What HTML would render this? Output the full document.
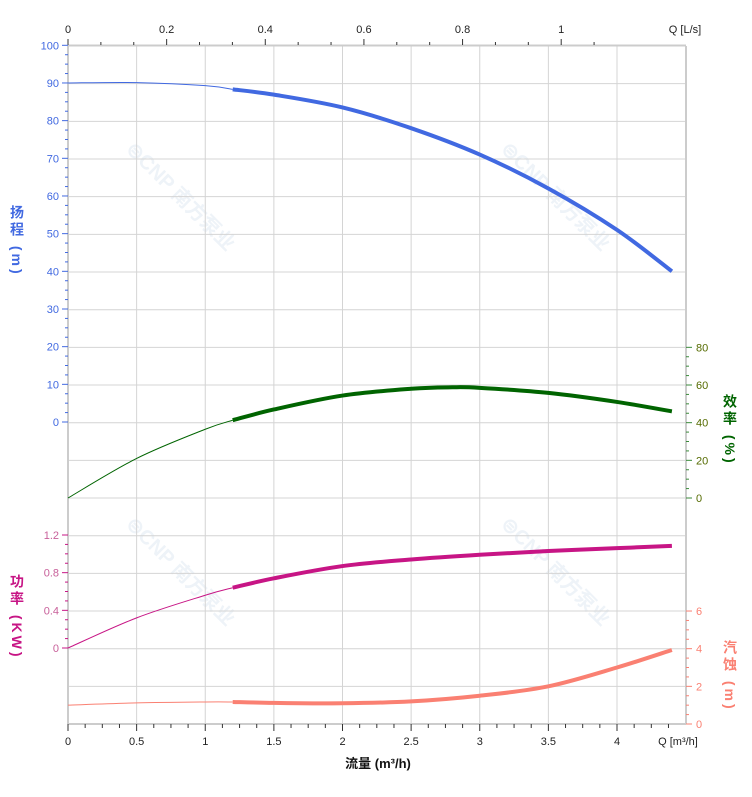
<!DOCTYPE html>
<html><head><meta charset="utf-8"><style>
html,body{margin:0;padding:0;background:#fff;}
svg{display:block;font-family:"Liberation Sans","Noto Sans CJK SC",sans-serif;}
.vl{font-weight:bold;font-size:14px;letter-spacing:3px;}
</style></head><body>
<svg id="s" width="752" height="797" viewBox="0 0 752 797" xmlns="http://www.w3.org/2000/svg"></svg>
<script>
var s=document.getElementById('s');var h='';
var X0=68,PX=137.25,T=46,B=724,R=686,G=37.67;
function X(q){return X0+q*PX;}
function wm(x,y){h+='<text x="'+x+'" y="'+y+'" font-size="20" font-weight="bold" fill="#eef3f8" transform="rotate(45 '+x+' '+y+')">⊜CNP 南方泵业</text>';}
wm(125,150);wm(500,150);wm(125,525);wm(500,525);
for(var i=0;i<=18;i++){var y=T+i*G;h+='<line x1="68" x2="686" y1="'+y+'" y2="'+y+'" stroke="#d4d4d4" stroke-width="1"/>';}
for(var q=0.5;q<=4.01;q+=0.5){var x=X(q);h+='<line x1="'+x+'" x2="'+x+'" y1="46" y2="724" stroke="#d4d4d4"/>';}
h+='<line x1="68" x2="686" y1="45.5" y2="45.5" stroke="#ccc" stroke-width="2"/>';
h+='<line x1="68" x2="686" y1="724" y2="724" stroke="#ccc" stroke-width="2"/>';
h+='<line x1="68" x2="68" y1="46" y2="724" stroke="#ccc" stroke-width="2"/>';
h+='<line x1="686" x2="686" y1="46" y2="724" stroke="#ccc" stroke-width="2"/>';
for(var k=0;k<=35;k++){var x=X(k/8);var L=(k%4==0)?7:4;h+='<line x1="'+x+'" x2="'+x+'" y1="724" y2="'+(724+L)+'" stroke="#333"/>';}
for(var k=0;k<=8;k++){h+='<text x="'+X(k/2)+'" y="745" font-size="11" text-anchor="middle" fill="#222">'+(k/2)+'</text>';}
h+='<text x="678" y="745" font-size="11" text-anchor="middle" fill="#222">Q [m³/h]</text>';
h+='<text x="378" y="768" font-size="13" font-weight="bold" text-anchor="middle" fill="#111">流量 (m³/h)</text>';
var LP=493.2;
for(var k=0;k<=16;k++){var x=68+k*LP/15;if(x>630)break;var L=(k%3==0)?6:3;h+='<line x1="'+x+'" x2="'+x+'" y1="'+(45-L)+'" y2="45" stroke="#333"/>';}
var tl=['0','0.2','0.4','0.6','0.8','1'];
for(var k=0;k<6;k++){h+='<text x="'+(68+k*LP/5)+'" y="33" font-size="11" text-anchor="middle" fill="#222">'+tl[k]+'</text>';}
h+='<text x="685" y="33" font-size="11" text-anchor="middle" fill="#222">Q [L/s]</text>';
var cb='#4169e1';
for(var v=0;v<=100;v+=2.5){var y=422-v*3.767;var L=(v%10==0)?6:3;h+='<line x1="'+(68-L)+'" x2="68" y1="'+y+'" y2="'+y+'" stroke="'+cb+'"/>';if(v%10==0)h+='<text x="59" y="'+(y+4)+'" font-size="11" text-anchor="end" fill="'+cb+'">'+v+'</text>';}
var cp='#c71585';
for(var k=0;k<=12;k++){var y=648-k*9.417;var L=(k%4==0)?6:3;h+='<line x1="'+(68-L)+'" x2="68" y1="'+y+'" y2="'+y+'" stroke="'+cp+'"/>';if(k%4==0)h+='<text x="59" y="'+(y+4)+'" font-size="11" text-anchor="end" fill="#c8609a">'+(k==0?'0':(k/10).toFixed(1))+'</text>';}
var ce='#006400';
for(var v=0;v<=80;v+=5){var y=498-v*1.8833;var L=(v%20==0)?6:3;h+='<line x1="686" x2="'+(686+L)+'" y1="'+y+'" y2="'+y+'" stroke="#3a8a3a"/>';if(v%20==0)h+='<text x="696" y="'+(y+4)+'" font-size="11" fill="#556b00">'+v+'</text>';}
var cn='#fa8072';
for(var v=0;v<=6;v+=0.5){var y=724-v*18.83;var L=(v%2==0)?6:3;h+='<line x1="686" x2="'+(686+L)+'" y1="'+y+'" y2="'+y+'" stroke="'+cn+'"/>';if(v%2==0)h+='<text x="696" y="'+(y+4)+'" font-size="11" fill="'+cn+'">'+v+'</text>';}
function vt(x,y,txt,c){h+='<text x="'+x+'" y="'+y+'" class="vl" fill="'+c+'" style="writing-mode:vertical-rl" text-anchor="start">'+txt+'</text>';}
vt(17,205,'扬程 (m)',cb);
vt(17,574,'功率 (KW)',cp);
vt(730,394,'效率 (%)',ce);
vt(730,640,'汽蚀 (m)',cn);
function path(pts,fy){var P=pts.map(function(p){return [X(p[0]),fy(p[1])];});
 var d='M'+P[0][0]+','+P[0][1];
 for(var i=0;i<P.length-1;i++){var p0=P[i-1]||P[i],p1=P[i],p2=P[i+1],p3=P[i+2]||P[i+1];
  d+=' C'+(p1[0]+(p2[0]-p0[0])/6)+','+(p1[1]+(p2[1]-p0[1])/6)+' '+(p2[0]-(p3[0]-p1[0])/6)+','+(p2[1]-(p3[1]-p1[1])/6)+' '+p2[0]+','+p2[1];}
 return d;}
function curve(pts,fy,c){var a=pts.filter(function(p){return p[0]<=1.2;}),b=pts.filter(function(p){return p[0]>=1.2;});
 h+='<path d="'+path(a,fy)+'" fill="none" stroke="'+c+'" stroke-width="1"/>';
 h+='<path d="'+path(b,fy)+'" fill="none" stroke="'+c+'" stroke-width="4"/>';}
curve([[0,90],[0.5,90.1],[1,89.3],[1.2,88.3],[1.5,86.9],[2,83.5],[2.5,78],[3,71],[3.5,62],[4,51],[4.4,40]],function(v){return 422-v*3.767;},cb);
curve([[0,0],[0.5,21],[1,36.5],[1.2,41.3],[1.5,47],[2,54.4],[2.5,58],[2.8,58.8],[3,58.5],[3.5,55.8],[4,51],[4.4,46]],function(v){return 498-v*1.8833;},ce);
curve([[0,0],[0.5,0.32],[1,0.56],[1.2,0.64],[1.5,0.74],[2,0.87],[2.5,0.94],[3,0.99],[3.5,1.03],[4,1.06],[4.4,1.085]],function(v){return 648-v*94.17;},cp);
curve([[0,1.0],[0.5,1.12],[1,1.17],[1.2,1.17],[1.5,1.12],[2,1.1],[2.5,1.2],[3,1.5],[3.5,2.0],[4,3.0],[4.4,3.93]],function(v){return 724-v*18.83;},cn);
s.innerHTML=h;
</script>
</body></html>
